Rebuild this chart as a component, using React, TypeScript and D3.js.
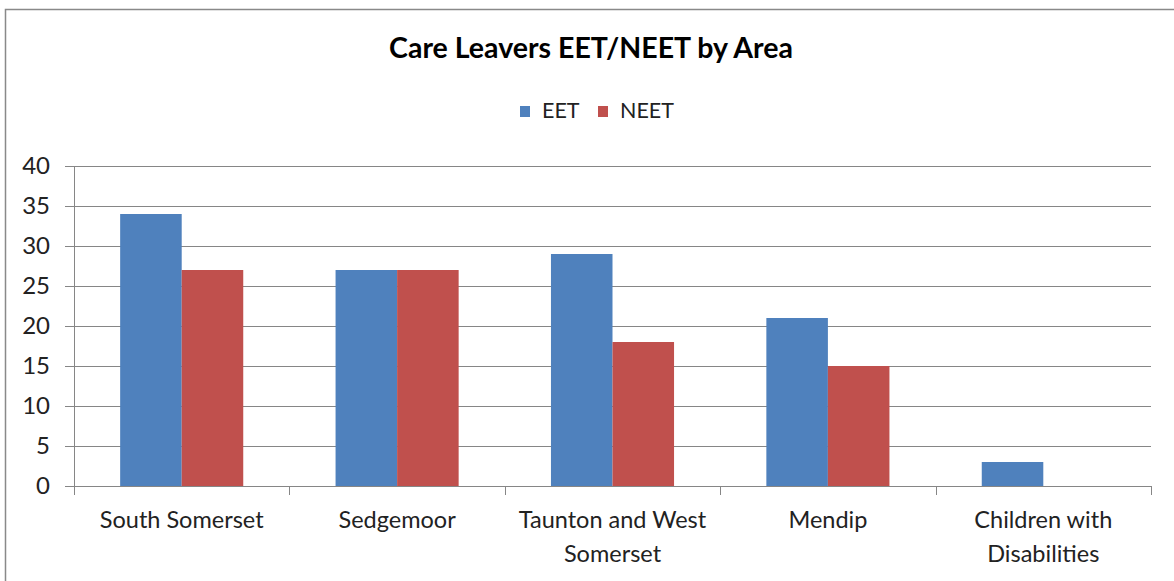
import * as d3 from "d3";
import React from "react";

const categories = [
  ["South Somerset"],
  ["Sedgemoor"],
  ["Taunton and West", "Somerset"],
  ["Mendip"],
  ["Children with", "Disabilities"],
];
const eetValues = [34, 27, 29, 21, 3];
const neetValues = [27, 27, 18, 15, 0];
const seriesNames = ["EET", "NEET"];
const seriesColors = ["#4F81BD", "#C0504D"];
const yTicks = [0, 5, 10, 15, 20, 25, 30, 35, 40];

const W = 1174,
  H = 581;
const FONT = "Lato, 'Open Sans', sans-serif";

const App: React.FC = () => {
  const left = 74,
    right = 1151,
    top = 166,
    bottom = 486;

  const x = d3
    .scaleBand<number>()
    .domain(d3.range(categories.length))
    .range([left, right]);
  // Excel-like gap width 150%
  const inner = d3
    .scaleBand<number>()
    .domain([0, 1])
    .range([0, x.bandwidth()])
    .paddingInner(0)
    .paddingOuter(0.75);
  const y = d3.scaleLinear().domain([0, 40]).range([bottom, top]);

  const series = [eetValues, neetValues];
  const axisColor = "#868686";
  const legendX = [520, 598];

  return (
    <svg
      width={W}
      height={H}
      style={{ position: "absolute", left: 0, top: 0, background: "#fff" }}
    >
      <rect x={5.5} y={9.5} width={W + 10} height={H + 10} fill="#fff" stroke="#898989" strokeWidth={1.5} />

      <text
        x={591}
        y={58}
        textAnchor="middle"
        fontFamily={FONT}
        fontWeight="bold"
        fontSize={28.5}
        fill="#000"
      >
        Care Leavers EET/NEET by Area
      </text>

      {/* legend */}
      {seriesNames.map((name, i) => (
        <g key={name}>
          <rect x={legendX[i]} y={106} width={10} height={11} fill={seriesColors[i]} />
          <text x={legendX[i] + 22} y={118} fontFamily={FONT} fontSize={21.5} fill="#222">
            {name}
          </text>
        </g>
      ))}

      {/* gridlines */}
      {yTicks.map((t) => (
        <g key={t}>
          <line x1={left - 9} x2={right} y1={y(t) + 0.5} y2={y(t) + 0.5} stroke={axisColor} strokeWidth={1} />
          <text
            x={50}
            y={y(t) + 8}
            textAnchor="end"
            fontFamily={FONT}
            fontSize={24}
            fill="#222"
          >
            {t}
          </text>
        </g>
      ))}

      {/* y axis */}
      <line x1={left + 0.5} x2={left + 0.5} y1={top} y2={bottom} stroke={axisColor} strokeWidth={1} />

      {/* bars */}
      {categories.map((_, ci) =>
        series.map((vals, si) => (
          <rect
            key={`${ci}-${si}`}
            x={(x(ci) as number) + (inner(si) as number)}
            y={y(vals[ci])}
            width={inner.bandwidth()}
            height={bottom - y(vals[ci])}
            fill={seriesColors[si]}
          />
        ))
      )}

      {/* x axis */}
      <line x1={left} x2={right} y1={bottom + 0.5} y2={bottom + 0.5} stroke={axisColor} strokeWidth={1} />
      {d3.range(categories.length + 1).map((i) => {
        const tx = Math.round(left + i * x.step()) + 0.5;
        return <line key={i} x1={tx} x2={tx} y1={bottom} y2={bottom + 9} stroke={axisColor} strokeWidth={1} />;
      })}

      {categories.map((lines, ci) => (
        <text
          key={ci}
          x={(x(ci) as number) + x.bandwidth() / 2}
          y={528}
          textAnchor="middle"
          fontFamily={FONT}
          fontSize={23.5}
          fill="#222"
        >
          {lines.map((l, li) => (
            <tspan key={li} x={(x(ci) as number) + x.bandwidth() / 2} dy={li === 0 ? 0 : 34}>
              {l}
            </tspan>
          ))}
        </text>
      ))}
    </svg>
  );
};

export default App;
